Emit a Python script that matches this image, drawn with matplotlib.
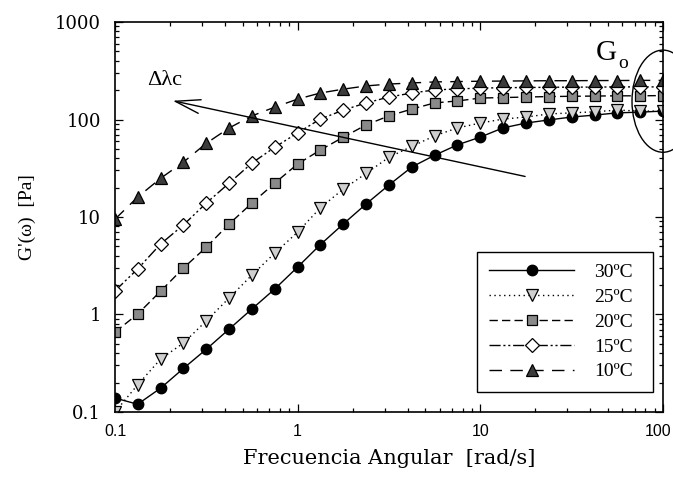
import matplotlib
matplotlib.use("Agg")
import matplotlib.pyplot as plt
from matplotlib.patches import Ellipse
from matplotlib.ticker import LogLocator, NullFormatter
from matplotlib.transforms import ScaledTranslation

# frecuencia angular [rad/s]
freq = [0.1, 0.133, 0.178, 0.237, 0.316, 0.422, 0.562, 0.750,
        1.0, 1.33, 1.78, 2.37, 3.16, 4.22, 5.62, 7.50,
        10.0, 13.3, 17.8, 23.7, 31.6, 42.2, 56.2, 75.0, 100.0]

# G'(w) [Pa] por temperatura
g_30 = [0.139, 0.12, 0.176, 0.28, 0.44, 0.71, 1.14, 1.83, 3.07, 5.2, 8.5, 13.6,
        21.3, 32.6, 43, 55, 66, 82, 92, 99, 106, 111, 117, 119, 122]
g_25 = [0.1, 0.19, 0.35, 0.51, 0.86, 1.48, 2.54, 4.27, 7.0, 12.4, 19.4, 28,
        41, 53, 68, 82, 92, 101, 106, 114, 117, 120, 125, 122, 122]
g_20 = [0.66, 1.01, 1.74, 3.0, 4.9, 8.5, 13.9, 22.3, 35, 48.6, 66, 88,
        109, 128, 148, 155, 166, 168, 170, 172, 173, 174, 175, 175, 176]
g_15 = [1.75, 2.93, 5.3, 8.3, 13.9, 22.3, 35.8, 52, 73, 101, 125, 148,
        170, 187, 201, 206, 210, 212, 213, 214, 215, 215, 216, 216, 216]
g_10 = [9.5, 16, 25, 36.6, 57, 82, 109, 134, 162, 187, 205, 221,
        231, 237, 243, 245, 247, 248, 249, 250, 250, 251, 251, 252, 252]

labels = ["30ºC", "25ºC", "20ºC", "15ºC", "10ºC"]

serif = "Liberation Serif"
wide_serif = "DejaVu Serif"

fig = plt.figure(figsize=(6.73, 4.84), dpi=100)
ax = fig.add_axes([0.1709, 0.1488, 0.8142, 0.8057])

ax.plot(freq, g_30, color="black", lw=1.0, ls="-", marker="o", ms=7.5,
        mfc="black", mec="black", label=labels[0])
ax.plot(freq, g_25, color="black", lw=1.0, ls=(0, (1, 2.5)), marker="v", ms=9,
        mfc="#cfcfcf", mec="black", mew=0.9, label=labels[1])
ax.plot(freq, g_20, color="black", lw=1.0, ls=(0, (6, 3)), marker="s", ms=7.5,
        mfc="#8a8a8a", mec="black", mew=0.9, label=labels[2])
ax.plot(freq, g_15, color="black", lw=1.0, ls=(0, (8, 2, 1.5, 2, 1.5, 2)), marker="D", ms=7.5,
        mfc="white", mec="black", mew=0.9, label=labels[3])
ax.plot(freq, g_10, color="black", lw=1.0, ls=(0, (9, 6)), marker="^", ms=9,
        mfc="#3c3c3c", mec="black", mew=0.9, label=labels[4])

ax.set_xscale("log")
ax.set_yscale("log")
ax.set_xlim(0.1, 100)
ax.set_ylim(0.1, 1000)

ax.set_xticks([0.1, 1, 10, 100], labels=["0.1", "1", "10", "100"],
              fontfamily="Liberation Sans", fontsize=11.5)
ax.set_yticks([0.1, 1, 10, 100, 1000], labels=["0.1", "1", "10", "100", "1000"],
              fontfamily=wide_serif, fontsize=13)
ax.xaxis.set_minor_locator(LogLocator(base=10, subs=range(2, 10)))
ax.yaxis.set_minor_locator(LogLocator(base=10, subs=range(2, 10)))
ax.xaxis.set_minor_formatter(NullFormatter())
ax.yaxis.set_minor_formatter(NullFormatter())
ax.tick_params(which="both", direction="in", top=True, right=True, width=0.9)
ax.tick_params(which="major", length=6)
ax.tick_params(which="minor", length=3)
ax.tick_params(axis="x", pad=9)
ax.tick_params(axis="y", pad=10)
for s in ax.spines.values():
    s.set_linewidth(1.2)

# el "100" queda en el borde: correrlo un poco a la izquierda
last = ax.get_xticklabels()[-1]
last.set_transform(last.get_transform() + ScaledTranslation(-5 / 100, 0, fig.dpi_scale_trans))

ax.set_xlabel("Frecuencia Angular  [rad/s]", fontfamily=wide_serif, fontsize=15, labelpad=7)
ax.set_ylabel("G'(ω)  [Pa]", fontfamily=serif, fontsize=14, labelpad=14)

# flecha de desplazamiento
ax.annotate("", xy=(0.2, 158), xytext=(18.2, 25.7),
            arrowprops=dict(arrowstyle="->,head_length=1.8,head_width=0.5",
                            color="black", lw=1.0))
ax.text(0.188, 254, "Δλc", fontfamily=serif, fontsize=16, ha="center", va="center")

# meseta G_o
ax.add_patch(Ellipse((1.0, 0.797), 0.113, 0.262, transform=ax.transAxes,
                     fill=False, ec="black", lw=1.0, clip_on=False))
ax.text(0.896, 0.92, "G", transform=ax.transAxes, fontfamily=serif, fontsize=21,
        ha="center", va="center")
ax.text(0.927, 0.893, "o", transform=ax.transAxes, fontfamily=serif, fontsize=14,
        ha="center", va="center")

leg = ax.legend(loc="lower left", bbox_to_anchor=(0.661, 0.051, 0.321, 0.357),
                mode="expand", frameon=True,
                fancybox=False, edgecolor="black", framealpha=1, borderaxespad=0,
                prop={"family": serif, "size": 14}, handlelength=4.4,
                handletextpad=1.0, labelspacing=0.37, borderpad=0.6)
leg.get_frame().set_linewidth(1.0)

fig.savefig("out.png", dpi=100)
